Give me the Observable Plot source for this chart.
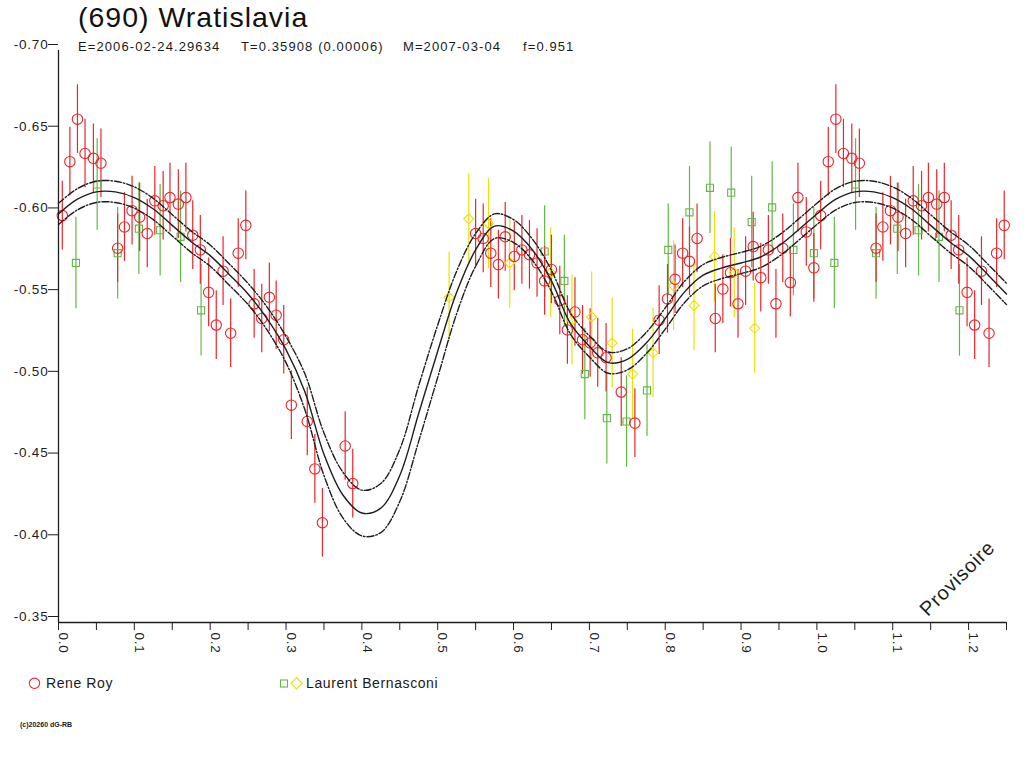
<!DOCTYPE html>
<html><head><meta charset="utf-8">
<script src="https://cdn.jsdelivr.net/npm/d3@7"></script>
<script src="https://cdn.jsdelivr.net/npm/@observablehq/plot@0.6"></script>
<style>
body{margin:0;background:#fff;font-family:"Liberation Sans",Arial,sans-serif;}
#wrap{position:relative;width:1024px;height:768px;overflow:hidden;background:#fff;}
#chart{position:absolute;left:0;top:0;}
.t{position:absolute;white-space:pre;color:#1a1a1a;line-height:1;}
#chart svg text{letter-spacing:0.8px;}
.sym{position:absolute;}
</style></head><body>
<div id="wrap">
<div id="chart"></div>
<div class="t" style="left:78px;top:3px;font-size:28.5px;letter-spacing:1px;color:#111">(690) Wratislavia</div>
<div class="t" style="left:78px;top:40px;font-size:13px;letter-spacing:1.1px">E=2006-02-24.29634</div>
<div class="t" style="left:241px;top:40px;font-size:13px;letter-spacing:1.1px">T=0.35908 (0.00006)</div>
<div class="t" style="left:403px;top:40px;font-size:13px;letter-spacing:1.1px">M=2007-03-04</div>
<div class="t" style="left:523px;top:40px;font-size:13px;letter-spacing:1.1px">f=0.951</div>
<svg class="sym" style="left:0;top:670px" width="320" height="30">
  <circle cx="34.5" cy="13.3" r="5.2" fill="none" stroke="#e8262b" stroke-width="1.1"/>
  <rect x="280.5" y="10" width="7" height="7" fill="none" stroke="#62b844" stroke-width="1.1"/>
  <path d="M296.5,7.5 L302,13.3 L296.5,19 L291,13.3 Z" fill="none" stroke="#eee000" stroke-width="1.1"/>
</svg>
<div class="t" style="left:46px;top:676px;font-size:14px;letter-spacing:0.6px">Rene Roy</div>
<div class="t" style="left:306px;top:676px;font-size:14px;letter-spacing:0.6px">Laurent Bernasconi</div>
<div class="t" style="left:20px;top:721px;font-size:7px;font-weight:bold">(c)20260 dG-RB</div>
</div>
<script>
// ---- data ----
const RR_PHASE = [0.005,0.015,0.025,0.035,0.046,0.056,0.078,0.087,0.097,0.107,0.117,0.127,0.138,0.147,0.158,0.168,0.177,0.187,0.198,0.208,0.217,0.227,0.237,0.247,0.258,0.268,0.278,0.287,0.297,0.307,0.328,0.338,0.348,0.378,0.388,0.550,0.560,0.570,0.580,0.589,0.601,0.611,0.621,0.631,0.641,0.650,0.661,0.671,0.681,0.691,0.701,0.711,0.722,0.742,0.760,0.792,0.803,0.813,0.823,0.832,0.842,0.866,0.876,0.886,0.896,0.906,0.916,0.926,0.936,0.946,0.955,0.965,0.975,0.986,0.996];
const RR_MAG = [-0.599,-0.632,-0.658,-0.637,-0.634,-0.631,-0.579,-0.592,-0.602,-0.598,-0.588,-0.608,-0.605,-0.610,-0.606,-0.610,-0.587,-0.578,-0.552,-0.532,-0.565,-0.527,-0.576,-0.593,-0.545,-0.536,-0.549,-0.538,-0.523,-0.483,-0.473,-0.444,-0.411,-0.458,-0.435,-0.588,-0.585,-0.576,-0.569,-0.586,-0.574,-0.578,-0.575,-0.570,-0.559,-0.566,-0.547,-0.529,-0.540,-0.523,-0.521,-0.515,-0.512,-0.491,-0.472,-0.535,-0.548,-0.560,-0.576,-0.571,-0.585,-0.536,-0.554,-0.564,-0.545,-0.565,-0.580,-0.561,-0.578,-0.545,-0.579,-0.558,-0.610,-0.589,-0.567];
const RR_ERR = 0.021;

const LB1_PHASE = [0.023,0.051,0.078,0.106,0.134,0.161,0.188,0.641,0.667,0.694,0.723,0.749,0.776,0.804,0.832,0.859,0.887,0.914,0.941,0.969,0.996];
const LB1_MAG = [-0.570,-0.618,-0.576,-0.591,-0.590,-0.586,-0.541,-0.577,-0.559,-0.502,-0.475,-0.473,-0.492,-0.578,-0.601,-0.616,-0.613,-0.595,-0.604,-0.578,-0.576];
const LB1_ERR = 0.028;

const LB2_PHASE = [0.515,0.541,0.567,0.595,0.649,0.677,0.703,0.730,0.757,0.784,0.811,0.838,0.865,0.891,0.918];
const LB2_MAG = [-0.549,-0.597,-0.594,-0.570,-0.564,-0.535,-0.537,-0.521,-0.502,-0.515,-0.556,-0.544,-0.574,-0.564,-0.530];
const LB2_ERR = 0.0275;

const FIT_PHASE = [0,0.025,0.05,0.075,0.1,0.125,0.15,0.175,0.2,0.225,0.25,0.275,0.3,0.325,0.35,0.375,0.4,0.425,0.45,0.475,0.5,0.525,0.55,0.575,0.6,0.625,0.65,0.675,0.7,0.725,0.75,0.775,0.8,0.825,0.85,0.875,0.9,0.925,0.95,0.975];
const FIT_MAG = [-0.600,-0.609,-0.6135,-0.6135,-0.610,-0.603,-0.593,-0.583,-0.5745,-0.563,-0.551,-0.536,-0.517,-0.491,-0.453,-0.428,-0.417,-0.420,-0.440,-0.478,-0.516,-0.552,-0.578,-0.5925,-0.5895,-0.578,-0.559,-0.533,-0.519,-0.509,-0.511,-0.521,-0.536,-0.552,-0.5625,-0.567,-0.570,-0.5735,-0.5805,-0.590];
const FIT_SPREAD = [0.0065,0.0065,0.0065,0.0065,0.0065,0.0065,0.0065,0.0065,0.0065,0.0065,0.0065,0.007,0.008,0.011,0.013,0.014,0.014,0.015,0.016,0.017,0.016,0.013,0.010,0.0075,0.007,0.0065,0.0065,0.0065,0.0065,0.0065,0.0065,0.0065,0.0065,0.0065,0.0065,0.0065,0.0065,0.0065,0.0065,0.0065];

const Y_TICKS = [-0.70,-0.65,-0.60,-0.55,-0.50,-0.45,-0.40,-0.35];
const X_TICKS = [0,0.05,0.1,0.15,0.2,0.25,0.3,0.35,0.4,0.45,0.5,0.55,0.6,0.65,0.7,0.75,0.8,0.85,0.9,0.95,1.0,1.05,1.1,1.15,1.2,1.25];
const X_LABELS = [0,0.1,0.2,0.3,0.4,0.5,0.6,0.7,0.8,0.9,1.0,1.1,1.2];
const X_MAX = 1.25;

const RED = "#e8262b", GREEN = "#62b844", YELLOW = "#eee000", INK = "#1e1e1e";

// phases plotted twice: phase and phase+1 while within the axis
function rows(phases, mags, err) {
  const out = [];
  phases.forEach((p, i) => {
    out.push({p, m: mags[i], e: err});
    if (p + 1 <= X_MAX + 1e-9) out.push({p: p + 1, m: mags[i], e: err});
  });
  return out;
}
const rr = rows(RR_PHASE, RR_MAG, RR_ERR);
const lb1 = rows(LB1_PHASE, LB1_MAG, LB1_ERR);
const lb2 = rows(LB2_PHASE, LB2_MAG, LB2_ERR);
const fit = [];
FIT_PHASE.forEach((p, i) => {
  const r = {c: FIT_MAG[i], u: FIT_MAG[i] - FIT_SPREAD[i], l: FIT_MAG[i] + FIT_SPREAD[i]};
  fit.push({p, ...r});
});
FIT_PHASE.forEach((p, i) => {
  if (p + 1 <= X_MAX + 1e-9) fit.push({p: p + 1, c: FIT_MAG[i], u: FIT_MAG[i] - FIT_SPREAD[i], l: FIT_MAG[i] + FIT_SPREAD[i]});
});

function errorBars(data, color) {
  return Plot.ruleX(data, {x: "p", y1: d => d.m - d.e, y2: d => d.m + d.e, stroke: color, strokeWidth: 1.2});
}

const chart = Plot.plot({
  width: 1024, height: 660,
  marginTop: 50, marginBottom: 38, marginLeft: 58, marginRight: 18,
  style: {fontFamily: "'Liberation Sans', Arial, sans-serif", fontSize: "13.5px", color: INK, background: "#fff", overflow: "visible"},
  x: {domain: [0, X_MAX]},
  y: {domain: [-0.35, -0.70]},
  marks: [
    errorBars(lb1, GREEN),
    errorBars(lb2, YELLOW),
    errorBars(rr, RED),
    Plot.dot(lb1, {x: "p", y: "m", symbol: "square", r: 4, fill: "none", stroke: GREEN, strokeWidth: 1.1}),
    Plot.dot(lb2, {x: "p", y: "m", symbol: "diamond2", r: 4.5, fill: "none", stroke: YELLOW, strokeWidth: 1.1}),
    Plot.dot(rr, {x: "p", y: "m", r: 5.2, fill: "none", stroke: RED, strokeWidth: 1.1}),
    Plot.line(fit, {x: "p", y: "u", curve: "catmull-rom", stroke: INK, strokeWidth: 1.4, strokeDasharray: "7,2,1.5,2"}),
    Plot.line(fit, {x: "p", y: "l", curve: "catmull-rom", stroke: INK, strokeWidth: 1.4, strokeDasharray: "7,2,1.5,2"}),
    Plot.line(fit, {x: "p", y: "c", curve: "catmull-rom", stroke: INK, strokeWidth: 1.4}),
    Plot.ruleX([0], {y1: -0.35, y2: -0.70, stroke: INK, strokeWidth: 1.3}),
    Plot.ruleY([-0.35], {x1: 0, x2: X_MAX, stroke: INK, strokeWidth: 1.3}),
    Plot.axisY({ticks: Y_TICKS, tickSize: 10, tickPadding: 0, dy: -6, tickFormat: d => d.toFixed(2), label: null, fontSize: 13.5}),
    Plot.axisX({ticks: X_TICKS, tickSize: 8, tickFormat: () => "", label: null}),
    Plot.axisX({ticks: X_LABELS, tickSize: 0, tickPadding: 10, tickRotate: 90, dx: 5, tickFormat: d => d.toFixed(1), label: null, fontSize: 13.5}),
    Plot.text(["Provisoire"], {text: d => d, frameAnchor: "bottom-right", dx: -49, dy: -44, rotate: -45, fontSize: 20, textAnchor: "middle", lineAnchor: "middle", fill: INK})
  ]
});
document.getElementById("chart").appendChild(chart);
</script>
</body></html>
